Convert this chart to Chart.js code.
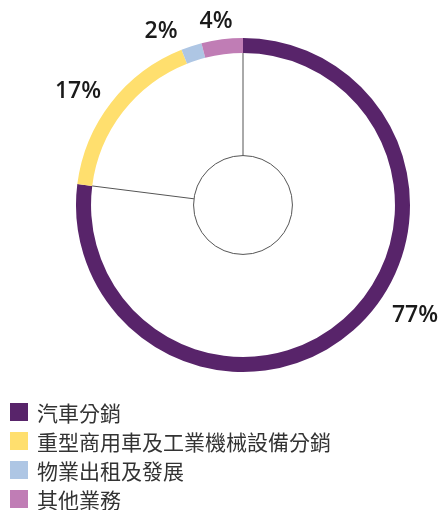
<!DOCTYPE html>
<html>
<head>
<meta charset="utf-8">
<script src="https://cdn.jsdelivr.net/npm/chart.js@4/dist/chart.umd.min.js"></script>
<style>
  html, body { margin: 0; padding: 0; background: #fff; }
  #wrap { position: relative; width: 442px; height: 510px; }
  #chart { position: absolute; left: 0; top: 0; }
  #legend { position: absolute; left: 10px; top: 397px; font-family: "Noto Sans CJK TC", "Noto Sans", sans-serif; font-size: 21px; color: #333; letter-spacing: 0px; }
  .row { display: flex; align-items: center; height: 29px; white-space: nowrap; }
  .box { width: 18px; height: 18px; margin-right: 9px; flex: none; }
</style>
</head>
<body>
<div id="wrap">
  <canvas id="chart" width="442" height="510"></canvas>
  <div id="legend"></div>
</div>
<script>
const categories = ['汽車分銷', '重型商用車及工業機械設備分銷', '物業出租及發展', '其他業務'];
const shares = [77, 17, 2, 4];
const shareLabels = ['77%', '17%', '2%', '4%'];
const colors = ['#58246a', '#ffdf6e', '#aec6e4', '#c07db5'];
// label anchor offsets from chart centre (px)
const labelOffsets = [[172, 110], [-165, -114], [-82, -174], [-27, -184]];

const decorPlugin = {
  id: 'decor',
  afterDatasetsDraw(chart) {
    const ctx = chart.ctx;
    const meta = chart.getDatasetMeta(0);
    const first = meta.data[0];
    const cx = first.x, cy = first.y;
    const outer = first.outerRadius, inner = first.innerRadius;
    const r0 = outer * 0.296;
    ctx.save();
    ctx.strokeStyle = '#555';
    ctx.lineWidth = 1;
    ctx.beginPath();
    ctx.arc(cx, cy, r0, 0, Math.PI * 2);
    ctx.stroke();
    [first.startAngle, first.endAngle].forEach(a => {
      ctx.beginPath();
      ctx.moveTo(cx + Math.cos(a) * r0, cy + Math.sin(a) * r0);
      ctx.lineTo(cx + Math.cos(a) * inner, cy + Math.sin(a) * inner);
      ctx.stroke();
    });
    ctx.fillStyle = '#1a1a1a';
    ctx.font = '600 23px "Open Sans", sans-serif';
    ctx.textAlign = 'center';
    ctx.textBaseline = 'middle';
    shareLabels.forEach((t, i) => {
      ctx.fillText(t, cx + labelOffsets[i][0], cy + labelOffsets[i][1]);
    });
    ctx.restore();
  }
};

new Chart(document.getElementById('chart'), {
  type: 'doughnut',
  data: {
    labels: categories,
    datasets: [{ data: shares, backgroundColor: colors, borderWidth: 0, hoverOffset: 0 }]
  },
  options: {
    responsive: false,
    animation: false,
    cutout: '91%',
    layout: { padding: { left: 44, right: 0, top: 38, bottom: 138 } },
    plugins: { legend: { display: false }, tooltip: { enabled: false } }
  },
  plugins: [decorPlugin]
});

const legendEl = document.getElementById('legend');
categories.forEach((c, i) => {
  const row = document.createElement('div');
  row.className = 'row';
  const box = document.createElement('span');
  box.className = 'box';
  box.style.background = colors[i];
  const txt = document.createElement('span');
  txt.textContent = c;
  row.appendChild(box);
  row.appendChild(txt);
  legendEl.appendChild(row);
});
</script>
</body>
</html>
